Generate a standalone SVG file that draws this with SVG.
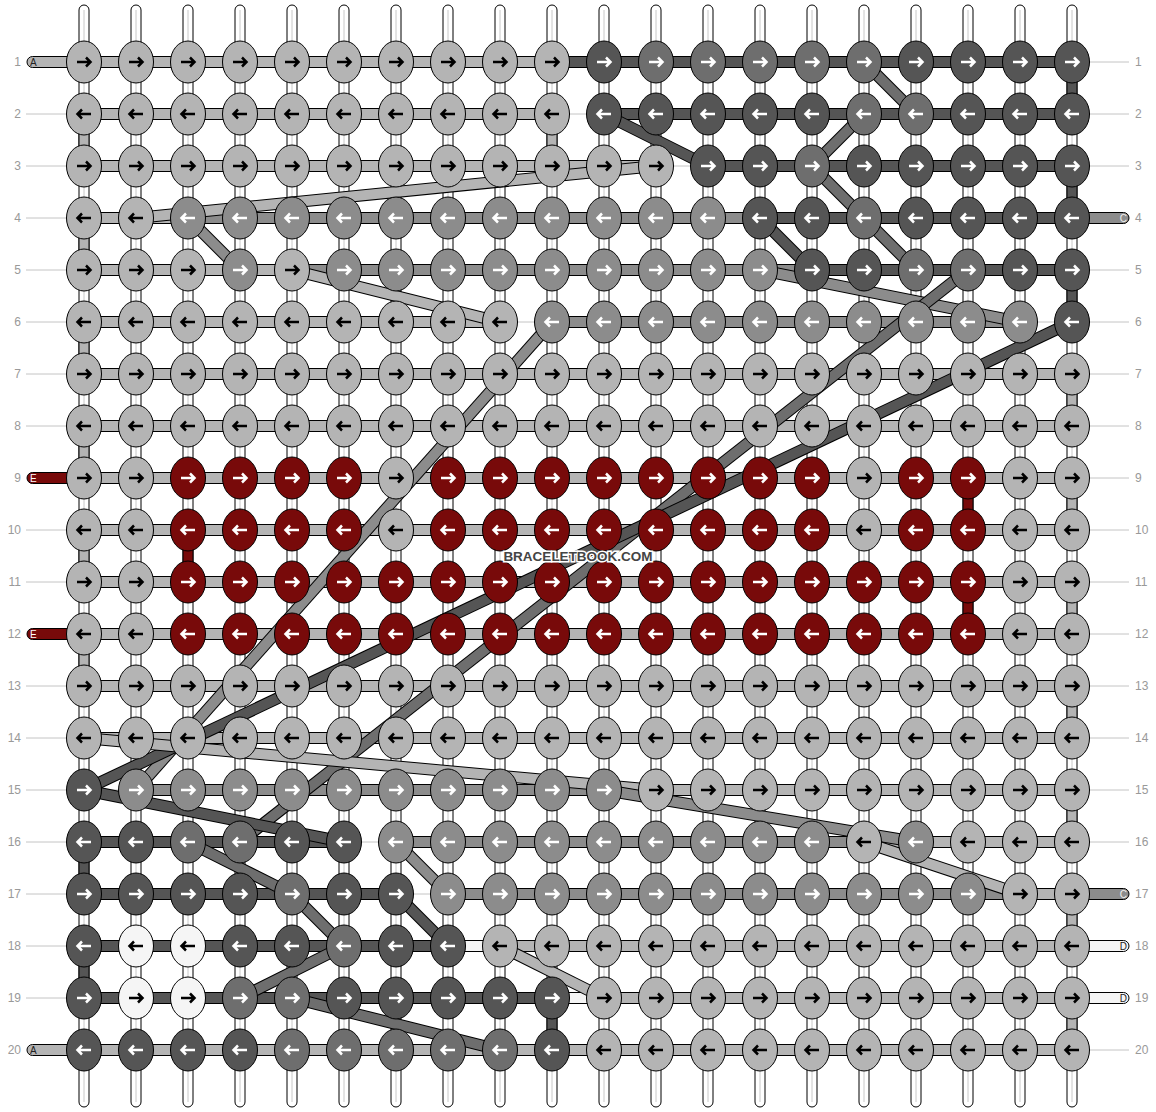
<svg xmlns="http://www.w3.org/2000/svg" xmlns:xlink="http://www.w3.org/1999/xlink" width="1156" height="1112" viewBox="0 0 1156 1112">
<style>
.lb{font-family:"Liberation Sans",Arial,sans-serif;font-size:12px;fill:#999}
.sl{font-family:"Liberation Sans",Arial,sans-serif;font-size:10px}
.rail{fill:#fff;stroke:#000;stroke-width:1}
.rl{stroke:#c8c8c8;stroke-width:1}
.tl{stroke:#c4c4c4;stroke-width:1}
.bd{stroke:#000;stroke-width:1}
.fa{fill:#b4b4b4}.fc{fill:#8c8c8c}.fm{fill:#6e6e6e}.fb{fill:#555}.fe{fill:#780a0a}.fd{fill:#f5f5f5}
.ol{stroke:#000;stroke-width:12}
.sa{stroke:#b4b4b4;stroke-width:10}.sc{stroke:#8c8c8c;stroke-width:10}.sm{stroke:#6e6e6e;stroke-width:10}.sb{stroke:#555;stroke-width:10}
.ka{fill:#b4b4b4;stroke:#000}.kc{fill:#8c8c8c;stroke:#fff}.km{fill:#6e6e6e;stroke:#fff}.kb{fill:#555;stroke:#fff}.ke{fill:#780a0a;stroke:#fff}.kd{fill:#f5f5f5;stroke:#000}
.wm{font-family:"Liberation Sans",Arial,sans-serif;font-size:13.5px;font-weight:bold;fill:#444;stroke:#fff;stroke-width:3;paint-order:stroke;text-anchor:middle}
</style>
<defs>
<ellipse id="K" rx="17.5" ry="21" stroke="#000" stroke-width="1"/>
<path id="R" d="M-7,0H6M2,-4.5L6.5,0L2,4.5" fill="none" stroke-width="2.5"/>
<path id="L" d="M7,0H-6M-2,-4.5L-6.5,0L-2,4.5" fill="none" stroke-width="2.5"/>
</defs>
<rect width="1156" height="1112" fill="#fff"/>
<g id="labels">
<g class="tl">
<line x1="26" y1="114" x2="66" y2="114"/><line x1="26" y1="166" x2="66" y2="166"/><line x1="26" y1="218" x2="66" y2="218"/><line x1="26" y1="270" x2="66" y2="270"/><line x1="26" y1="322" x2="66" y2="322"/><line x1="26" y1="374" x2="66" y2="374"/><line x1="26" y1="426" x2="66" y2="426"/><line x1="26" y1="530" x2="66" y2="530"/><line x1="26" y1="582" x2="66" y2="582"/><line x1="26" y1="686" x2="66" y2="686"/><line x1="26" y1="738" x2="66" y2="738"/><line x1="26" y1="790" x2="66" y2="790"/><line x1="26" y1="842" x2="66" y2="842"/><line x1="26" y1="894" x2="66" y2="894"/><line x1="26" y1="946" x2="66" y2="946"/><line x1="26" y1="998" x2="66" y2="998"/>
<line x1="1090" y1="62" x2="1129" y2="62"/><line x1="1090" y1="114" x2="1129" y2="114"/><line x1="1090" y1="166" x2="1129" y2="166"/><line x1="1090" y1="270" x2="1129" y2="270"/><line x1="1090" y1="322" x2="1129" y2="322"/><line x1="1090" y1="374" x2="1129" y2="374"/><line x1="1090" y1="426" x2="1129" y2="426"/><line x1="1090" y1="478" x2="1129" y2="478"/><line x1="1090" y1="530" x2="1129" y2="530"/><line x1="1090" y1="582" x2="1129" y2="582"/><line x1="1090" y1="634" x2="1129" y2="634"/><line x1="1090" y1="686" x2="1129" y2="686"/><line x1="1090" y1="738" x2="1129" y2="738"/><line x1="1090" y1="790" x2="1129" y2="790"/><line x1="1090" y1="842" x2="1129" y2="842"/><line x1="1090" y1="1050" x2="1129" y2="1050"/>
</g>
<g class="lb" text-anchor="end">
<text x="21" y="66">1</text><text x="21" y="118">2</text><text x="21" y="170">3</text><text x="21" y="222">4</text><text x="21" y="274">5</text><text x="21" y="326">6</text><text x="21" y="378">7</text><text x="21" y="430">8</text><text x="21" y="482">9</text><text x="21" y="534">10</text><text x="21" y="586">11</text><text x="21" y="638">12</text><text x="21" y="690">13</text><text x="21" y="742">14</text><text x="21" y="794">15</text><text x="21" y="846">16</text><text x="21" y="898">17</text><text x="21" y="950">18</text><text x="21" y="1002">19</text><text x="21" y="1054">20</text>
</g>
<g class="lb">
<text x="1135" y="66">1</text><text x="1135" y="118">2</text><text x="1135" y="170">3</text><text x="1135" y="222">4</text><text x="1135" y="274">5</text><text x="1135" y="326">6</text><text x="1135" y="378">7</text><text x="1135" y="430">8</text><text x="1135" y="482">9</text><text x="1135" y="534">10</text><text x="1135" y="586">11</text><text x="1135" y="638">12</text><text x="1135" y="690">13</text><text x="1135" y="742">14</text><text x="1135" y="794">15</text><text x="1135" y="846">16</text><text x="1135" y="898">17</text><text x="1135" y="950">18</text><text x="1135" y="1002">19</text><text x="1135" y="1054">20</text>
</g>
</g>
<g id="strings">
<g class="rail">
<rect x="79" y="5" width="10" height="1102" rx="5"/><rect x="131" y="5" width="10" height="1102" rx="5"/><rect x="183" y="5" width="10" height="1102" rx="5"/><rect x="235" y="5" width="10" height="1102" rx="5"/><rect x="287" y="5" width="10" height="1102" rx="5"/><rect x="339" y="5" width="10" height="1102" rx="5"/><rect x="391" y="5" width="10" height="1102" rx="5"/><rect x="443" y="5" width="10" height="1102" rx="5"/><rect x="495" y="5" width="10" height="1102" rx="5"/><rect x="547" y="5" width="10" height="1102" rx="5"/><rect x="599" y="5" width="10" height="1102" rx="5"/><rect x="651" y="5" width="10" height="1102" rx="5"/><rect x="703" y="5" width="10" height="1102" rx="5"/><rect x="755" y="5" width="10" height="1102" rx="5"/><rect x="807" y="5" width="10" height="1102" rx="5"/><rect x="859" y="5" width="10" height="1102" rx="5"/><rect x="911" y="5" width="10" height="1102" rx="5"/><rect x="963" y="5" width="10" height="1102" rx="5"/><rect x="1015" y="5" width="10" height="1102" rx="5"/><rect x="1067" y="5" width="10" height="1102" rx="5"/>
</g>
<g class="rl">
<line x1="84" y1="10" x2="84" y2="1102"/><line x1="136" y1="10" x2="136" y2="1102"/><line x1="188" y1="10" x2="188" y2="1102"/><line x1="240" y1="10" x2="240" y2="1102"/><line x1="292" y1="10" x2="292" y2="1102"/><line x1="344" y1="10" x2="344" y2="1102"/><line x1="396" y1="10" x2="396" y2="1102"/><line x1="448" y1="10" x2="448" y2="1102"/><line x1="500" y1="10" x2="500" y2="1102"/><line x1="552" y1="10" x2="552" y2="1102"/><line x1="604" y1="10" x2="604" y2="1102"/><line x1="656" y1="10" x2="656" y2="1102"/><line x1="708" y1="10" x2="708" y2="1102"/><line x1="760" y1="10" x2="760" y2="1102"/><line x1="812" y1="10" x2="812" y2="1102"/><line x1="864" y1="10" x2="864" y2="1102"/><line x1="916" y1="10" x2="916" y2="1102"/><line x1="968" y1="10" x2="968" y2="1102"/><line x1="1020" y1="10" x2="1020" y2="1102"/><line x1="1072" y1="10" x2="1072" y2="1102"/>
</g>
</g>
<g id="connectors">
<g class="bd">
<rect class="fa" x="79" y="114" width="10" height="52"/><rect class="fa" x="79" y="218" width="10" height="52"/><rect class="fa" x="79" y="322" width="10" height="52"/><rect class="fa" x="79" y="426" width="10" height="52"/><rect class="fa" x="79" y="530" width="10" height="52"/><rect class="fa" x="79" y="634" width="10" height="52"/><rect class="fb" x="79" y="842" width="10" height="52"/><rect class="fb" x="79" y="946" width="10" height="52"/>
<rect class="fb" x="1067" y="62" width="10" height="52"/><rect class="fb" x="1067" y="166" width="10" height="52"/><rect class="fb" x="1067" y="270" width="10" height="52"/><rect class="fa" x="1067" y="374" width="10" height="52"/><rect class="fa" x="1067" y="478" width="10" height="52"/><rect class="fa" x="1067" y="582" width="10" height="52"/><rect class="fa" x="1067" y="686" width="10" height="52"/><rect class="fa" x="1067" y="790" width="10" height="52"/><rect class="fa" x="1067" y="894" width="10" height="52"/><rect class="fa" x="1067" y="998" width="10" height="52"/>
<rect class="fa" x="547" y="114" width="10" height="52"/><rect class="fb" x="547" y="998" width="10" height="52"/>
<rect class="fe" x="963" y="478" width="10" height="52"/><rect class="fe" x="963" y="582" width="10" height="52"/><rect class="fe" x="183" y="530" width="10" height="52"/>
<rect class="fa" x="27" y="56.5" width="60" height="11" rx="5.5"/>
<rect class="fe" x="27" y="472.5" width="60" height="11" rx="5.5"/>
<rect class="fe" x="27" y="628.5" width="60" height="11" rx="5.5"/>
<rect class="fa" x="27" y="1044.5" width="60" height="11" rx="5.5"/>
<rect class="fc" x="1069" y="212.5" width="60" height="11" rx="5.5"/>
<rect class="fc" x="1069" y="888.5" width="60" height="11" rx="5.5"/>
<rect class="fd" x="1069" y="940.5" width="60" height="11" rx="5.5"/>
<rect class="fd" x="1069" y="992.5" width="60" height="11" rx="5.5"/>
<rect class="fa" x="84" y="56.5" width="468" height="11"/><rect class="fb" x="552" y="56.5" width="520" height="11"/>
<rect class="fa" x="84" y="108.5" width="468" height="11"/><rect class="fb" x="604" y="108.5" width="468" height="11"/>
<rect class="fa" x="84" y="160.5" width="572" height="11"/><rect class="fb" x="708" y="160.5" width="364" height="11"/>
<rect class="fa" x="84" y="212.5" width="104" height="11"/><rect class="fc" x="188" y="212.5" width="572" height="11"/><rect class="fb" x="760" y="212.5" width="312" height="11"/>
<rect class="fa" x="84" y="264.5" width="208" height="11"/><rect class="fc" x="292" y="264.5" width="520" height="11"/><rect class="fb" x="812" y="264.5" width="260" height="11"/>
<rect class="fa" x="84" y="316.5" width="416" height="11"/><rect class="fc" x="552" y="316.5" width="468" height="11"/>
<rect class="fa" x="84" y="368.5" width="988" height="11"/>
<rect class="fa" x="84" y="420.5" width="988" height="11"/>
<rect class="fa" x="84" y="472.5" width="988" height="11"/>
<rect class="fa" x="84" y="524.5" width="988" height="11"/>
<rect class="fa" x="84" y="576.5" width="988" height="11"/>
<rect class="fa" x="84" y="628.5" width="988" height="11"/>
<rect class="fa" x="84" y="680.5" width="988" height="11"/>
<rect class="fa" x="84" y="732.5" width="988" height="11"/>
<rect class="fc" x="136" y="784.5" width="468" height="11"/><rect class="fa" x="604" y="784.5" width="468" height="11"/>
<rect class="fb" x="84" y="836.5" width="260" height="11"/><rect class="fc" x="396" y="836.5" width="468" height="11"/><rect class="fa" x="864" y="836.5" width="208" height="11"/>
<rect class="fb" x="84" y="888.5" width="312" height="11"/><rect class="fc" x="448" y="888.5" width="572" height="11"/><rect class="fa" x="1020" y="888.5" width="52" height="11"/>
<rect class="fb" x="84" y="940.5" width="364" height="11"/><rect class="fd" x="448" y="940.5" width="52" height="11"/><rect class="fa" x="500" y="940.5" width="572" height="11"/>
<rect class="fb" x="84" y="992.5" width="468" height="11"/><rect class="fd" x="552" y="992.5" width="52" height="11"/><rect class="fa" x="604" y="992.5" width="468" height="11"/>
<rect class="fa" x="84" y="1044.5" width="988" height="11"/>
</g>
<g class="tl">
<line x1="552" y1="114" x2="604" y2="114"/><line x1="656" y1="166" x2="708" y2="166"/><line x1="500" y1="322" x2="552" y2="322"/><line x1="1020" y1="322" x2="1072" y2="322"/><line x1="84" y1="790" x2="136" y2="790"/><line x1="344" y1="842" x2="396" y2="842"/><line x1="396" y1="894" x2="448" y2="894"/>
</g>
<g class="sl">
<text x="30" y="66" fill="#222">A</text><text x="30" y="482" fill="#fff">E</text><text x="30" y="638" fill="#fff">E</text><text x="30" y="1054" fill="#222">A</text>
<text x="1127" y="222" fill="#eee" text-anchor="end">C</text><text x="1127" y="898" fill="#eee" text-anchor="end">C</text><text x="1127" y="950" fill="#222" text-anchor="end">D</text><text x="1127" y="1002" fill="#222" text-anchor="end">D</text>
</g>
<g id="diagonals">
<line class="ol" x1="136" y1="218" x2="656" y2="166"/><line class="sa" x1="136" y1="218" x2="656" y2="166"/>
<line class="ol" x1="292" y1="270" x2="500" y2="322"/><line class="sa" x1="292" y1="270" x2="500" y2="322"/>
<line class="ol" x1="188" y1="218" x2="240" y2="270"/><line class="sc" x1="188" y1="218" x2="240" y2="270"/>
<line class="ol" x1="760" y1="270" x2="1020" y2="322"/><line class="sc" x1="760" y1="270" x2="1020" y2="322"/>
<line class="ol" x1="864" y1="62" x2="916" y2="114"/><line class="sm" x1="864" y1="62" x2="916" y2="114"/>
<line class="ol" x1="864" y1="114" x2="812" y2="166"/><line class="sm" x1="864" y1="114" x2="812" y2="166"/>
<line class="ol" x1="812" y1="166" x2="864" y2="218"/><line class="sm" x1="812" y1="166" x2="864" y2="218"/>
<line class="ol" x1="864" y1="218" x2="916" y2="270"/><line class="sm" x1="864" y1="218" x2="916" y2="270"/>
<line class="ol" x1="604" y1="114" x2="708" y2="166"/><line class="sb" x1="604" y1="114" x2="708" y2="166"/>
<line class="ol" x1="760" y1="218" x2="812" y2="270"/><line class="sb" x1="760" y1="218" x2="812" y2="270"/>
<line class="ol" x1="552" y1="322" x2="136" y2="790"/><line class="sc" x1="552" y1="322" x2="136" y2="790"/>
<line class="ol" x1="968" y1="270" x2="240" y2="842"/><line class="sm" x1="968" y1="270" x2="240" y2="842"/>
<line class="ol" x1="1072" y1="322" x2="84" y2="790"/><line class="sb" x1="1072" y1="322" x2="84" y2="790"/>
<line class="ol" x1="84" y1="738" x2="656" y2="790"/><line class="sa" x1="84" y1="738" x2="656" y2="790"/>
<line class="ol" x1="84" y1="790" x2="344" y2="842"/><line class="sb" x1="84" y1="790" x2="344" y2="842"/>
<line class="ol" x1="604" y1="790" x2="916" y2="842"/><line class="sc" x1="604" y1="790" x2="916" y2="842"/>
<line class="ol" x1="864" y1="842" x2="1020" y2="894"/><line class="sa" x1="864" y1="842" x2="1020" y2="894"/>
<line class="ol" x1="188" y1="842" x2="292" y2="894"/><line class="sm" x1="188" y1="842" x2="292" y2="894"/>
<line class="ol" x1="292" y1="894" x2="344" y2="946"/><line class="sm" x1="292" y1="894" x2="344" y2="946"/>
<line class="ol" x1="240" y1="998" x2="344" y2="946"/><line class="sm" x1="240" y1="998" x2="344" y2="946"/>
<line class="ol" x1="292" y1="998" x2="500" y2="1050"/><line class="sm" x1="292" y1="998" x2="500" y2="1050"/>
<line class="ol" x1="396" y1="842" x2="448" y2="894"/><line class="sc" x1="396" y1="842" x2="448" y2="894"/>
<line class="ol" x1="396" y1="894" x2="448" y2="946"/><line class="sb" x1="396" y1="894" x2="448" y2="946"/>
<line class="ol" x1="500" y1="946" x2="604" y2="998"/><line class="sa" x1="500" y1="946" x2="604" y2="998"/>
</g>
</g>
<g id="knots">
<g id="k1_1" class="ka" transform="translate(84,62)"><use href="#K"/><use href="#R"/></g>
<g id="k1_2" class="ka" transform="translate(136,62)"><use href="#K"/><use href="#R"/></g>
<g id="k1_3" class="ka" transform="translate(188,62)"><use href="#K"/><use href="#R"/></g>
<g id="k1_4" class="ka" transform="translate(240,62)"><use href="#K"/><use href="#R"/></g>
<g id="k1_5" class="ka" transform="translate(292,62)"><use href="#K"/><use href="#R"/></g>
<g id="k1_6" class="ka" transform="translate(344,62)"><use href="#K"/><use href="#R"/></g>
<g id="k1_7" class="ka" transform="translate(396,62)"><use href="#K"/><use href="#R"/></g>
<g id="k1_8" class="ka" transform="translate(448,62)"><use href="#K"/><use href="#R"/></g>
<g id="k1_9" class="ka" transform="translate(500,62)"><use href="#K"/><use href="#R"/></g>
<g id="k1_10" class="ka" transform="translate(552,62)"><use href="#K"/><use href="#R"/></g>
<g id="k1_11" class="kb" transform="translate(604,62)"><use href="#K"/><use href="#R"/></g>
<g id="k1_12" class="km" transform="translate(656,62)"><use href="#K"/><use href="#R"/></g>
<g id="k1_13" class="km" transform="translate(708,62)"><use href="#K"/><use href="#R"/></g>
<g id="k1_14" class="km" transform="translate(760,62)"><use href="#K"/><use href="#R"/></g>
<g id="k1_15" class="km" transform="translate(812,62)"><use href="#K"/><use href="#R"/></g>
<g id="k1_16" class="km" transform="translate(864,62)"><use href="#K"/><use href="#R"/></g>
<g id="k1_17" class="kb" transform="translate(916,62)"><use href="#K"/><use href="#R"/></g>
<g id="k1_18" class="kb" transform="translate(968,62)"><use href="#K"/><use href="#R"/></g>
<g id="k1_19" class="kb" transform="translate(1020,62)"><use href="#K"/><use href="#R"/></g>
<g id="k1_20" class="kb" transform="translate(1072,62)"><use href="#K"/><use href="#R"/></g>
<g id="k2_1" class="ka" transform="translate(84,114)"><use href="#K"/><use href="#L"/></g>
<g id="k2_2" class="ka" transform="translate(136,114)"><use href="#K"/><use href="#L"/></g>
<g id="k2_3" class="ka" transform="translate(188,114)"><use href="#K"/><use href="#L"/></g>
<g id="k2_4" class="ka" transform="translate(240,114)"><use href="#K"/><use href="#L"/></g>
<g id="k2_5" class="ka" transform="translate(292,114)"><use href="#K"/><use href="#L"/></g>
<g id="k2_6" class="ka" transform="translate(344,114)"><use href="#K"/><use href="#L"/></g>
<g id="k2_7" class="ka" transform="translate(396,114)"><use href="#K"/><use href="#L"/></g>
<g id="k2_8" class="ka" transform="translate(448,114)"><use href="#K"/><use href="#L"/></g>
<g id="k2_9" class="ka" transform="translate(500,114)"><use href="#K"/><use href="#L"/></g>
<g id="k2_10" class="ka" transform="translate(552,114)"><use href="#K"/><use href="#L"/></g>
<g id="k2_11" class="kb" transform="translate(604,114)"><use href="#K"/><use href="#L"/></g>
<g id="k2_12" class="kb" transform="translate(656,114)"><use href="#K"/><use href="#L"/></g>
<g id="k2_13" class="kb" transform="translate(708,114)"><use href="#K"/><use href="#L"/></g>
<g id="k2_14" class="kb" transform="translate(760,114)"><use href="#K"/><use href="#L"/></g>
<g id="k2_15" class="kb" transform="translate(812,114)"><use href="#K"/><use href="#L"/></g>
<g id="k2_16" class="km" transform="translate(864,114)"><use href="#K"/><use href="#L"/></g>
<g id="k2_17" class="km" transform="translate(916,114)"><use href="#K"/><use href="#L"/></g>
<g id="k2_18" class="kb" transform="translate(968,114)"><use href="#K"/><use href="#L"/></g>
<g id="k2_19" class="kb" transform="translate(1020,114)"><use href="#K"/><use href="#L"/></g>
<g id="k2_20" class="kb" transform="translate(1072,114)"><use href="#K"/><use href="#L"/></g>
<g id="k3_1" class="ka" transform="translate(84,166)"><use href="#K"/><use href="#R"/></g>
<g id="k3_2" class="ka" transform="translate(136,166)"><use href="#K"/><use href="#R"/></g>
<g id="k3_3" class="ka" transform="translate(188,166)"><use href="#K"/><use href="#R"/></g>
<g id="k3_4" class="ka" transform="translate(240,166)"><use href="#K"/><use href="#R"/></g>
<g id="k3_5" class="ka" transform="translate(292,166)"><use href="#K"/><use href="#R"/></g>
<g id="k3_6" class="ka" transform="translate(344,166)"><use href="#K"/><use href="#R"/></g>
<g id="k3_7" class="ka" transform="translate(396,166)"><use href="#K"/><use href="#R"/></g>
<g id="k3_8" class="ka" transform="translate(448,166)"><use href="#K"/><use href="#R"/></g>
<g id="k3_9" class="ka" transform="translate(500,166)"><use href="#K"/><use href="#R"/></g>
<g id="k3_10" class="ka" transform="translate(552,166)"><use href="#K"/><use href="#R"/></g>
<g id="k3_11" class="ka" transform="translate(604,166)"><use href="#K"/><use href="#R"/></g>
<g id="k3_12" class="ka" transform="translate(656,166)"><use href="#K"/><use href="#R"/></g>
<g id="k3_13" class="kb" transform="translate(708,166)"><use href="#K"/><use href="#R"/></g>
<g id="k3_14" class="kb" transform="translate(760,166)"><use href="#K"/><use href="#R"/></g>
<g id="k3_15" class="km" transform="translate(812,166)"><use href="#K"/><use href="#R"/></g>
<g id="k3_16" class="kb" transform="translate(864,166)"><use href="#K"/><use href="#R"/></g>
<g id="k3_17" class="kb" transform="translate(916,166)"><use href="#K"/><use href="#R"/></g>
<g id="k3_18" class="kb" transform="translate(968,166)"><use href="#K"/><use href="#R"/></g>
<g id="k3_19" class="kb" transform="translate(1020,166)"><use href="#K"/><use href="#R"/></g>
<g id="k3_20" class="kb" transform="translate(1072,166)"><use href="#K"/><use href="#R"/></g>
<g id="k4_1" class="ka" transform="translate(84,218)"><use href="#K"/><use href="#L"/></g>
<g id="k4_2" class="ka" transform="translate(136,218)"><use href="#K"/><use href="#L"/></g>
<g id="k4_3" class="kc" transform="translate(188,218)"><use href="#K"/><use href="#L"/></g>
<g id="k4_4" class="kc" transform="translate(240,218)"><use href="#K"/><use href="#L"/></g>
<g id="k4_5" class="kc" transform="translate(292,218)"><use href="#K"/><use href="#L"/></g>
<g id="k4_6" class="kc" transform="translate(344,218)"><use href="#K"/><use href="#L"/></g>
<g id="k4_7" class="kc" transform="translate(396,218)"><use href="#K"/><use href="#L"/></g>
<g id="k4_8" class="kc" transform="translate(448,218)"><use href="#K"/><use href="#L"/></g>
<g id="k4_9" class="kc" transform="translate(500,218)"><use href="#K"/><use href="#L"/></g>
<g id="k4_10" class="kc" transform="translate(552,218)"><use href="#K"/><use href="#L"/></g>
<g id="k4_11" class="kc" transform="translate(604,218)"><use href="#K"/><use href="#L"/></g>
<g id="k4_12" class="kc" transform="translate(656,218)"><use href="#K"/><use href="#L"/></g>
<g id="k4_13" class="kc" transform="translate(708,218)"><use href="#K"/><use href="#L"/></g>
<g id="k4_14" class="kb" transform="translate(760,218)"><use href="#K"/><use href="#L"/></g>
<g id="k4_15" class="kb" transform="translate(812,218)"><use href="#K"/><use href="#L"/></g>
<g id="k4_16" class="km" transform="translate(864,218)"><use href="#K"/><use href="#L"/></g>
<g id="k4_17" class="kb" transform="translate(916,218)"><use href="#K"/><use href="#L"/></g>
<g id="k4_18" class="kb" transform="translate(968,218)"><use href="#K"/><use href="#L"/></g>
<g id="k4_19" class="kb" transform="translate(1020,218)"><use href="#K"/><use href="#L"/></g>
<g id="k4_20" class="kb" transform="translate(1072,218)"><use href="#K"/><use href="#L"/></g>
<g id="k5_1" class="ka" transform="translate(84,270)"><use href="#K"/><use href="#R"/></g>
<g id="k5_2" class="ka" transform="translate(136,270)"><use href="#K"/><use href="#R"/></g>
<g id="k5_3" class="ka" transform="translate(188,270)"><use href="#K"/><use href="#R"/></g>
<g id="k5_4" class="kc" transform="translate(240,270)"><use href="#K"/><use href="#R"/></g>
<g id="k5_5" class="ka" transform="translate(292,270)"><use href="#K"/><use href="#R"/></g>
<g id="k5_6" class="kc" transform="translate(344,270)"><use href="#K"/><use href="#R"/></g>
<g id="k5_7" class="kc" transform="translate(396,270)"><use href="#K"/><use href="#R"/></g>
<g id="k5_8" class="kc" transform="translate(448,270)"><use href="#K"/><use href="#R"/></g>
<g id="k5_9" class="kc" transform="translate(500,270)"><use href="#K"/><use href="#R"/></g>
<g id="k5_10" class="kc" transform="translate(552,270)"><use href="#K"/><use href="#R"/></g>
<g id="k5_11" class="kc" transform="translate(604,270)"><use href="#K"/><use href="#R"/></g>
<g id="k5_12" class="kc" transform="translate(656,270)"><use href="#K"/><use href="#R"/></g>
<g id="k5_13" class="kc" transform="translate(708,270)"><use href="#K"/><use href="#R"/></g>
<g id="k5_14" class="kc" transform="translate(760,270)"><use href="#K"/><use href="#R"/></g>
<g id="k5_15" class="kb" transform="translate(812,270)"><use href="#K"/><use href="#R"/></g>
<g id="k5_16" class="kb" transform="translate(864,270)"><use href="#K"/><use href="#R"/></g>
<g id="k5_17" class="km" transform="translate(916,270)"><use href="#K"/><use href="#R"/></g>
<g id="k5_18" class="km" transform="translate(968,270)"><use href="#K"/><use href="#R"/></g>
<g id="k5_19" class="kb" transform="translate(1020,270)"><use href="#K"/><use href="#R"/></g>
<g id="k5_20" class="kb" transform="translate(1072,270)"><use href="#K"/><use href="#R"/></g>
<g id="k6_1" class="ka" transform="translate(84,322)"><use href="#K"/><use href="#L"/></g>
<g id="k6_2" class="ka" transform="translate(136,322)"><use href="#K"/><use href="#L"/></g>
<g id="k6_3" class="ka" transform="translate(188,322)"><use href="#K"/><use href="#L"/></g>
<g id="k6_4" class="ka" transform="translate(240,322)"><use href="#K"/><use href="#L"/></g>
<g id="k6_5" class="ka" transform="translate(292,322)"><use href="#K"/><use href="#L"/></g>
<g id="k6_6" class="ka" transform="translate(344,322)"><use href="#K"/><use href="#L"/></g>
<g id="k6_7" class="ka" transform="translate(396,322)"><use href="#K"/><use href="#L"/></g>
<g id="k6_8" class="ka" transform="translate(448,322)"><use href="#K"/><use href="#L"/></g>
<g id="k6_9" class="ka" transform="translate(500,322)"><use href="#K"/><use href="#L"/></g>
<g id="k6_10" class="kc" transform="translate(552,322)"><use href="#K"/><use href="#L"/></g>
<g id="k6_11" class="kc" transform="translate(604,322)"><use href="#K"/><use href="#L"/></g>
<g id="k6_12" class="kc" transform="translate(656,322)"><use href="#K"/><use href="#L"/></g>
<g id="k6_13" class="kc" transform="translate(708,322)"><use href="#K"/><use href="#L"/></g>
<g id="k6_14" class="kc" transform="translate(760,322)"><use href="#K"/><use href="#L"/></g>
<g id="k6_15" class="kc" transform="translate(812,322)"><use href="#K"/><use href="#L"/></g>
<g id="k6_16" class="kc" transform="translate(864,322)"><use href="#K"/><use href="#L"/></g>
<g id="k6_17" class="kc" transform="translate(916,322)"><use href="#K"/><use href="#L"/></g>
<g id="k6_18" class="kc" transform="translate(968,322)"><use href="#K"/><use href="#L"/></g>
<g id="k6_19" class="kc" transform="translate(1020,322)"><use href="#K"/><use href="#L"/></g>
<g id="k6_20" class="kb" transform="translate(1072,322)"><use href="#K"/><use href="#L"/></g>
<g id="k7_1" class="ka" transform="translate(84,374)"><use href="#K"/><use href="#R"/></g>
<g id="k7_2" class="ka" transform="translate(136,374)"><use href="#K"/><use href="#R"/></g>
<g id="k7_3" class="ka" transform="translate(188,374)"><use href="#K"/><use href="#R"/></g>
<g id="k7_4" class="ka" transform="translate(240,374)"><use href="#K"/><use href="#R"/></g>
<g id="k7_5" class="ka" transform="translate(292,374)"><use href="#K"/><use href="#R"/></g>
<g id="k7_6" class="ka" transform="translate(344,374)"><use href="#K"/><use href="#R"/></g>
<g id="k7_7" class="ka" transform="translate(396,374)"><use href="#K"/><use href="#R"/></g>
<g id="k7_8" class="ka" transform="translate(448,374)"><use href="#K"/><use href="#R"/></g>
<g id="k7_9" class="ka" transform="translate(500,374)"><use href="#K"/><use href="#R"/></g>
<g id="k7_10" class="ka" transform="translate(552,374)"><use href="#K"/><use href="#R"/></g>
<g id="k7_11" class="ka" transform="translate(604,374)"><use href="#K"/><use href="#R"/></g>
<g id="k7_12" class="ka" transform="translate(656,374)"><use href="#K"/><use href="#R"/></g>
<g id="k7_13" class="ka" transform="translate(708,374)"><use href="#K"/><use href="#R"/></g>
<g id="k7_14" class="ka" transform="translate(760,374)"><use href="#K"/><use href="#R"/></g>
<g id="k7_15" class="ka" transform="translate(812,374)"><use href="#K"/><use href="#R"/></g>
<g id="k7_16" class="ka" transform="translate(864,374)"><use href="#K"/><use href="#R"/></g>
<g id="k7_17" class="ka" transform="translate(916,374)"><use href="#K"/><use href="#R"/></g>
<g id="k7_18" class="ka" transform="translate(968,374)"><use href="#K"/><use href="#R"/></g>
<g id="k7_19" class="ka" transform="translate(1020,374)"><use href="#K"/><use href="#R"/></g>
<g id="k7_20" class="ka" transform="translate(1072,374)"><use href="#K"/><use href="#R"/></g>
<g id="k8_1" class="ka" transform="translate(84,426)"><use href="#K"/><use href="#L"/></g>
<g id="k8_2" class="ka" transform="translate(136,426)"><use href="#K"/><use href="#L"/></g>
<g id="k8_3" class="ka" transform="translate(188,426)"><use href="#K"/><use href="#L"/></g>
<g id="k8_4" class="ka" transform="translate(240,426)"><use href="#K"/><use href="#L"/></g>
<g id="k8_5" class="ka" transform="translate(292,426)"><use href="#K"/><use href="#L"/></g>
<g id="k8_6" class="ka" transform="translate(344,426)"><use href="#K"/><use href="#L"/></g>
<g id="k8_7" class="ka" transform="translate(396,426)"><use href="#K"/><use href="#L"/></g>
<g id="k8_8" class="ka" transform="translate(448,426)"><use href="#K"/><use href="#L"/></g>
<g id="k8_9" class="ka" transform="translate(500,426)"><use href="#K"/><use href="#L"/></g>
<g id="k8_10" class="ka" transform="translate(552,426)"><use href="#K"/><use href="#L"/></g>
<g id="k8_11" class="ka" transform="translate(604,426)"><use href="#K"/><use href="#L"/></g>
<g id="k8_12" class="ka" transform="translate(656,426)"><use href="#K"/><use href="#L"/></g>
<g id="k8_13" class="ka" transform="translate(708,426)"><use href="#K"/><use href="#L"/></g>
<g id="k8_14" class="ka" transform="translate(760,426)"><use href="#K"/><use href="#L"/></g>
<g id="k8_15" class="ka" transform="translate(812,426)"><use href="#K"/><use href="#L"/></g>
<g id="k8_16" class="ka" transform="translate(864,426)"><use href="#K"/><use href="#L"/></g>
<g id="k8_17" class="ka" transform="translate(916,426)"><use href="#K"/><use href="#L"/></g>
<g id="k8_18" class="ka" transform="translate(968,426)"><use href="#K"/><use href="#L"/></g>
<g id="k8_19" class="ka" transform="translate(1020,426)"><use href="#K"/><use href="#L"/></g>
<g id="k8_20" class="ka" transform="translate(1072,426)"><use href="#K"/><use href="#L"/></g>
<g id="k9_1" class="ka" transform="translate(84,478)"><use href="#K"/><use href="#R"/></g>
<g id="k9_2" class="ka" transform="translate(136,478)"><use href="#K"/><use href="#R"/></g>
<g id="k9_3" class="ke" transform="translate(188,478)"><use href="#K"/><use href="#R"/></g>
<g id="k9_4" class="ke" transform="translate(240,478)"><use href="#K"/><use href="#R"/></g>
<g id="k9_5" class="ke" transform="translate(292,478)"><use href="#K"/><use href="#R"/></g>
<g id="k9_6" class="ke" transform="translate(344,478)"><use href="#K"/><use href="#R"/></g>
<g id="k9_7" class="ka" transform="translate(396,478)"><use href="#K"/><use href="#R"/></g>
<g id="k9_8" class="ke" transform="translate(448,478)"><use href="#K"/><use href="#R"/></g>
<g id="k9_9" class="ke" transform="translate(500,478)"><use href="#K"/><use href="#R"/></g>
<g id="k9_10" class="ke" transform="translate(552,478)"><use href="#K"/><use href="#R"/></g>
<g id="k9_11" class="ke" transform="translate(604,478)"><use href="#K"/><use href="#R"/></g>
<g id="k9_12" class="ke" transform="translate(656,478)"><use href="#K"/><use href="#R"/></g>
<g id="k9_13" class="ke" transform="translate(708,478)"><use href="#K"/><use href="#R"/></g>
<g id="k9_14" class="ke" transform="translate(760,478)"><use href="#K"/><use href="#R"/></g>
<g id="k9_15" class="ke" transform="translate(812,478)"><use href="#K"/><use href="#R"/></g>
<g id="k9_16" class="ka" transform="translate(864,478)"><use href="#K"/><use href="#R"/></g>
<g id="k9_17" class="ke" transform="translate(916,478)"><use href="#K"/><use href="#R"/></g>
<g id="k9_18" class="ke" transform="translate(968,478)"><use href="#K"/><use href="#R"/></g>
<g id="k9_19" class="ka" transform="translate(1020,478)"><use href="#K"/><use href="#R"/></g>
<g id="k9_20" class="ka" transform="translate(1072,478)"><use href="#K"/><use href="#R"/></g>
<g id="k10_1" class="ka" transform="translate(84,530)"><use href="#K"/><use href="#L"/></g>
<g id="k10_2" class="ka" transform="translate(136,530)"><use href="#K"/><use href="#L"/></g>
<g id="k10_3" class="ke" transform="translate(188,530)"><use href="#K"/><use href="#L"/></g>
<g id="k10_4" class="ke" transform="translate(240,530)"><use href="#K"/><use href="#L"/></g>
<g id="k10_5" class="ke" transform="translate(292,530)"><use href="#K"/><use href="#L"/></g>
<g id="k10_6" class="ke" transform="translate(344,530)"><use href="#K"/><use href="#L"/></g>
<g id="k10_7" class="ka" transform="translate(396,530)"><use href="#K"/><use href="#L"/></g>
<g id="k10_8" class="ke" transform="translate(448,530)"><use href="#K"/><use href="#L"/></g>
<g id="k10_9" class="ke" transform="translate(500,530)"><use href="#K"/><use href="#L"/></g>
<g id="k10_10" class="ke" transform="translate(552,530)"><use href="#K"/><use href="#L"/></g>
<g id="k10_11" class="ke" transform="translate(604,530)"><use href="#K"/><use href="#L"/></g>
<g id="k10_12" class="ke" transform="translate(656,530)"><use href="#K"/><use href="#L"/></g>
<g id="k10_13" class="ke" transform="translate(708,530)"><use href="#K"/><use href="#L"/></g>
<g id="k10_14" class="ke" transform="translate(760,530)"><use href="#K"/><use href="#L"/></g>
<g id="k10_15" class="ke" transform="translate(812,530)"><use href="#K"/><use href="#L"/></g>
<g id="k10_16" class="ka" transform="translate(864,530)"><use href="#K"/><use href="#L"/></g>
<g id="k10_17" class="ke" transform="translate(916,530)"><use href="#K"/><use href="#L"/></g>
<g id="k10_18" class="ke" transform="translate(968,530)"><use href="#K"/><use href="#L"/></g>
<g id="k10_19" class="ka" transform="translate(1020,530)"><use href="#K"/><use href="#L"/></g>
<g id="k10_20" class="ka" transform="translate(1072,530)"><use href="#K"/><use href="#L"/></g>
<g id="k11_1" class="ka" transform="translate(84,582)"><use href="#K"/><use href="#R"/></g>
<g id="k11_2" class="ka" transform="translate(136,582)"><use href="#K"/><use href="#R"/></g>
<g id="k11_3" class="ke" transform="translate(188,582)"><use href="#K"/><use href="#R"/></g>
<g id="k11_4" class="ke" transform="translate(240,582)"><use href="#K"/><use href="#R"/></g>
<g id="k11_5" class="ke" transform="translate(292,582)"><use href="#K"/><use href="#R"/></g>
<g id="k11_6" class="ke" transform="translate(344,582)"><use href="#K"/><use href="#R"/></g>
<g id="k11_7" class="ke" transform="translate(396,582)"><use href="#K"/><use href="#R"/></g>
<g id="k11_8" class="ke" transform="translate(448,582)"><use href="#K"/><use href="#R"/></g>
<g id="k11_9" class="ke" transform="translate(500,582)"><use href="#K"/><use href="#R"/></g>
<g id="k11_10" class="ke" transform="translate(552,582)"><use href="#K"/><use href="#R"/></g>
<g id="k11_11" class="ke" transform="translate(604,582)"><use href="#K"/><use href="#R"/></g>
<g id="k11_12" class="ke" transform="translate(656,582)"><use href="#K"/><use href="#R"/></g>
<g id="k11_13" class="ke" transform="translate(708,582)"><use href="#K"/><use href="#R"/></g>
<g id="k11_14" class="ke" transform="translate(760,582)"><use href="#K"/><use href="#R"/></g>
<g id="k11_15" class="ke" transform="translate(812,582)"><use href="#K"/><use href="#R"/></g>
<g id="k11_16" class="ke" transform="translate(864,582)"><use href="#K"/><use href="#R"/></g>
<g id="k11_17" class="ke" transform="translate(916,582)"><use href="#K"/><use href="#R"/></g>
<g id="k11_18" class="ke" transform="translate(968,582)"><use href="#K"/><use href="#R"/></g>
<g id="k11_19" class="ka" transform="translate(1020,582)"><use href="#K"/><use href="#R"/></g>
<g id="k11_20" class="ka" transform="translate(1072,582)"><use href="#K"/><use href="#R"/></g>
<g id="k12_1" class="ka" transform="translate(84,634)"><use href="#K"/><use href="#L"/></g>
<g id="k12_2" class="ka" transform="translate(136,634)"><use href="#K"/><use href="#L"/></g>
<g id="k12_3" class="ke" transform="translate(188,634)"><use href="#K"/><use href="#L"/></g>
<g id="k12_4" class="ke" transform="translate(240,634)"><use href="#K"/><use href="#L"/></g>
<g id="k12_5" class="ke" transform="translate(292,634)"><use href="#K"/><use href="#L"/></g>
<g id="k12_6" class="ke" transform="translate(344,634)"><use href="#K"/><use href="#L"/></g>
<g id="k12_7" class="ke" transform="translate(396,634)"><use href="#K"/><use href="#L"/></g>
<g id="k12_8" class="ke" transform="translate(448,634)"><use href="#K"/><use href="#L"/></g>
<g id="k12_9" class="ke" transform="translate(500,634)"><use href="#K"/><use href="#L"/></g>
<g id="k12_10" class="ke" transform="translate(552,634)"><use href="#K"/><use href="#L"/></g>
<g id="k12_11" class="ke" transform="translate(604,634)"><use href="#K"/><use href="#L"/></g>
<g id="k12_12" class="ke" transform="translate(656,634)"><use href="#K"/><use href="#L"/></g>
<g id="k12_13" class="ke" transform="translate(708,634)"><use href="#K"/><use href="#L"/></g>
<g id="k12_14" class="ke" transform="translate(760,634)"><use href="#K"/><use href="#L"/></g>
<g id="k12_15" class="ke" transform="translate(812,634)"><use href="#K"/><use href="#L"/></g>
<g id="k12_16" class="ke" transform="translate(864,634)"><use href="#K"/><use href="#L"/></g>
<g id="k12_17" class="ke" transform="translate(916,634)"><use href="#K"/><use href="#L"/></g>
<g id="k12_18" class="ke" transform="translate(968,634)"><use href="#K"/><use href="#L"/></g>
<g id="k12_19" class="ka" transform="translate(1020,634)"><use href="#K"/><use href="#L"/></g>
<g id="k12_20" class="ka" transform="translate(1072,634)"><use href="#K"/><use href="#L"/></g>
<g id="k13_1" class="ka" transform="translate(84,686)"><use href="#K"/><use href="#R"/></g>
<g id="k13_2" class="ka" transform="translate(136,686)"><use href="#K"/><use href="#R"/></g>
<g id="k13_3" class="ka" transform="translate(188,686)"><use href="#K"/><use href="#R"/></g>
<g id="k13_4" class="ka" transform="translate(240,686)"><use href="#K"/><use href="#R"/></g>
<g id="k13_5" class="ka" transform="translate(292,686)"><use href="#K"/><use href="#R"/></g>
<g id="k13_6" class="ka" transform="translate(344,686)"><use href="#K"/><use href="#R"/></g>
<g id="k13_7" class="ka" transform="translate(396,686)"><use href="#K"/><use href="#R"/></g>
<g id="k13_8" class="ka" transform="translate(448,686)"><use href="#K"/><use href="#R"/></g>
<g id="k13_9" class="ka" transform="translate(500,686)"><use href="#K"/><use href="#R"/></g>
<g id="k13_10" class="ka" transform="translate(552,686)"><use href="#K"/><use href="#R"/></g>
<g id="k13_11" class="ka" transform="translate(604,686)"><use href="#K"/><use href="#R"/></g>
<g id="k13_12" class="ka" transform="translate(656,686)"><use href="#K"/><use href="#R"/></g>
<g id="k13_13" class="ka" transform="translate(708,686)"><use href="#K"/><use href="#R"/></g>
<g id="k13_14" class="ka" transform="translate(760,686)"><use href="#K"/><use href="#R"/></g>
<g id="k13_15" class="ka" transform="translate(812,686)"><use href="#K"/><use href="#R"/></g>
<g id="k13_16" class="ka" transform="translate(864,686)"><use href="#K"/><use href="#R"/></g>
<g id="k13_17" class="ka" transform="translate(916,686)"><use href="#K"/><use href="#R"/></g>
<g id="k13_18" class="ka" transform="translate(968,686)"><use href="#K"/><use href="#R"/></g>
<g id="k13_19" class="ka" transform="translate(1020,686)"><use href="#K"/><use href="#R"/></g>
<g id="k13_20" class="ka" transform="translate(1072,686)"><use href="#K"/><use href="#R"/></g>
<g id="k14_1" class="ka" transform="translate(84,738)"><use href="#K"/><use href="#L"/></g>
<g id="k14_2" class="ka" transform="translate(136,738)"><use href="#K"/><use href="#L"/></g>
<g id="k14_3" class="ka" transform="translate(188,738)"><use href="#K"/><use href="#L"/></g>
<g id="k14_4" class="ka" transform="translate(240,738)"><use href="#K"/><use href="#L"/></g>
<g id="k14_5" class="ka" transform="translate(292,738)"><use href="#K"/><use href="#L"/></g>
<g id="k14_6" class="ka" transform="translate(344,738)"><use href="#K"/><use href="#L"/></g>
<g id="k14_7" class="ka" transform="translate(396,738)"><use href="#K"/><use href="#L"/></g>
<g id="k14_8" class="ka" transform="translate(448,738)"><use href="#K"/><use href="#L"/></g>
<g id="k14_9" class="ka" transform="translate(500,738)"><use href="#K"/><use href="#L"/></g>
<g id="k14_10" class="ka" transform="translate(552,738)"><use href="#K"/><use href="#L"/></g>
<g id="k14_11" class="ka" transform="translate(604,738)"><use href="#K"/><use href="#L"/></g>
<g id="k14_12" class="ka" transform="translate(656,738)"><use href="#K"/><use href="#L"/></g>
<g id="k14_13" class="ka" transform="translate(708,738)"><use href="#K"/><use href="#L"/></g>
<g id="k14_14" class="ka" transform="translate(760,738)"><use href="#K"/><use href="#L"/></g>
<g id="k14_15" class="ka" transform="translate(812,738)"><use href="#K"/><use href="#L"/></g>
<g id="k14_16" class="ka" transform="translate(864,738)"><use href="#K"/><use href="#L"/></g>
<g id="k14_17" class="ka" transform="translate(916,738)"><use href="#K"/><use href="#L"/></g>
<g id="k14_18" class="ka" transform="translate(968,738)"><use href="#K"/><use href="#L"/></g>
<g id="k14_19" class="ka" transform="translate(1020,738)"><use href="#K"/><use href="#L"/></g>
<g id="k14_20" class="ka" transform="translate(1072,738)"><use href="#K"/><use href="#L"/></g>
<g id="k15_1" class="kb" transform="translate(84,790)"><use href="#K"/><use href="#R"/></g>
<g id="k15_2" class="kc" transform="translate(136,790)"><use href="#K"/><use href="#R"/></g>
<g id="k15_3" class="kc" transform="translate(188,790)"><use href="#K"/><use href="#R"/></g>
<g id="k15_4" class="kc" transform="translate(240,790)"><use href="#K"/><use href="#R"/></g>
<g id="k15_5" class="kc" transform="translate(292,790)"><use href="#K"/><use href="#R"/></g>
<g id="k15_6" class="kc" transform="translate(344,790)"><use href="#K"/><use href="#R"/></g>
<g id="k15_7" class="kc" transform="translate(396,790)"><use href="#K"/><use href="#R"/></g>
<g id="k15_8" class="kc" transform="translate(448,790)"><use href="#K"/><use href="#R"/></g>
<g id="k15_9" class="kc" transform="translate(500,790)"><use href="#K"/><use href="#R"/></g>
<g id="k15_10" class="kc" transform="translate(552,790)"><use href="#K"/><use href="#R"/></g>
<g id="k15_11" class="kc" transform="translate(604,790)"><use href="#K"/><use href="#R"/></g>
<g id="k15_12" class="ka" transform="translate(656,790)"><use href="#K"/><use href="#R"/></g>
<g id="k15_13" class="ka" transform="translate(708,790)"><use href="#K"/><use href="#R"/></g>
<g id="k15_14" class="ka" transform="translate(760,790)"><use href="#K"/><use href="#R"/></g>
<g id="k15_15" class="ka" transform="translate(812,790)"><use href="#K"/><use href="#R"/></g>
<g id="k15_16" class="ka" transform="translate(864,790)"><use href="#K"/><use href="#R"/></g>
<g id="k15_17" class="ka" transform="translate(916,790)"><use href="#K"/><use href="#R"/></g>
<g id="k15_18" class="ka" transform="translate(968,790)"><use href="#K"/><use href="#R"/></g>
<g id="k15_19" class="ka" transform="translate(1020,790)"><use href="#K"/><use href="#R"/></g>
<g id="k15_20" class="ka" transform="translate(1072,790)"><use href="#K"/><use href="#R"/></g>
<g id="k16_1" class="kb" transform="translate(84,842)"><use href="#K"/><use href="#L"/></g>
<g id="k16_2" class="kb" transform="translate(136,842)"><use href="#K"/><use href="#L"/></g>
<g id="k16_3" class="km" transform="translate(188,842)"><use href="#K"/><use href="#L"/></g>
<g id="k16_4" class="km" transform="translate(240,842)"><use href="#K"/><use href="#L"/></g>
<g id="k16_5" class="kb" transform="translate(292,842)"><use href="#K"/><use href="#L"/></g>
<g id="k16_6" class="kb" transform="translate(344,842)"><use href="#K"/><use href="#L"/></g>
<g id="k16_7" class="kc" transform="translate(396,842)"><use href="#K"/><use href="#L"/></g>
<g id="k16_8" class="kc" transform="translate(448,842)"><use href="#K"/><use href="#L"/></g>
<g id="k16_9" class="kc" transform="translate(500,842)"><use href="#K"/><use href="#L"/></g>
<g id="k16_10" class="kc" transform="translate(552,842)"><use href="#K"/><use href="#L"/></g>
<g id="k16_11" class="kc" transform="translate(604,842)"><use href="#K"/><use href="#L"/></g>
<g id="k16_12" class="kc" transform="translate(656,842)"><use href="#K"/><use href="#L"/></g>
<g id="k16_13" class="kc" transform="translate(708,842)"><use href="#K"/><use href="#L"/></g>
<g id="k16_14" class="kc" transform="translate(760,842)"><use href="#K"/><use href="#L"/></g>
<g id="k16_15" class="kc" transform="translate(812,842)"><use href="#K"/><use href="#L"/></g>
<g id="k16_16" class="ka" transform="translate(864,842)"><use href="#K"/><use href="#L"/></g>
<g id="k16_17" class="kc" transform="translate(916,842)"><use href="#K"/><use href="#L"/></g>
<g id="k16_18" class="ka" transform="translate(968,842)"><use href="#K"/><use href="#L"/></g>
<g id="k16_19" class="ka" transform="translate(1020,842)"><use href="#K"/><use href="#L"/></g>
<g id="k16_20" class="ka" transform="translate(1072,842)"><use href="#K"/><use href="#L"/></g>
<g id="k17_1" class="kb" transform="translate(84,894)"><use href="#K"/><use href="#R"/></g>
<g id="k17_2" class="kb" transform="translate(136,894)"><use href="#K"/><use href="#R"/></g>
<g id="k17_3" class="kb" transform="translate(188,894)"><use href="#K"/><use href="#R"/></g>
<g id="k17_4" class="kb" transform="translate(240,894)"><use href="#K"/><use href="#R"/></g>
<g id="k17_5" class="km" transform="translate(292,894)"><use href="#K"/><use href="#R"/></g>
<g id="k17_6" class="kb" transform="translate(344,894)"><use href="#K"/><use href="#R"/></g>
<g id="k17_7" class="kb" transform="translate(396,894)"><use href="#K"/><use href="#R"/></g>
<g id="k17_8" class="kc" transform="translate(448,894)"><use href="#K"/><use href="#R"/></g>
<g id="k17_9" class="kc" transform="translate(500,894)"><use href="#K"/><use href="#R"/></g>
<g id="k17_10" class="kc" transform="translate(552,894)"><use href="#K"/><use href="#R"/></g>
<g id="k17_11" class="kc" transform="translate(604,894)"><use href="#K"/><use href="#R"/></g>
<g id="k17_12" class="kc" transform="translate(656,894)"><use href="#K"/><use href="#R"/></g>
<g id="k17_13" class="kc" transform="translate(708,894)"><use href="#K"/><use href="#R"/></g>
<g id="k17_14" class="kc" transform="translate(760,894)"><use href="#K"/><use href="#R"/></g>
<g id="k17_15" class="kc" transform="translate(812,894)"><use href="#K"/><use href="#R"/></g>
<g id="k17_16" class="kc" transform="translate(864,894)"><use href="#K"/><use href="#R"/></g>
<g id="k17_17" class="kc" transform="translate(916,894)"><use href="#K"/><use href="#R"/></g>
<g id="k17_18" class="kc" transform="translate(968,894)"><use href="#K"/><use href="#R"/></g>
<g id="k17_19" class="ka" transform="translate(1020,894)"><use href="#K"/><use href="#R"/></g>
<g id="k17_20" class="ka" transform="translate(1072,894)"><use href="#K"/><use href="#R"/></g>
<g id="k18_1" class="kb" transform="translate(84,946)"><use href="#K"/><use href="#L"/></g>
<g id="k18_2" class="kd" transform="translate(136,946)"><use href="#K"/><use href="#L"/></g>
<g id="k18_3" class="kd" transform="translate(188,946)"><use href="#K"/><use href="#L"/></g>
<g id="k18_4" class="kb" transform="translate(240,946)"><use href="#K"/><use href="#L"/></g>
<g id="k18_5" class="kb" transform="translate(292,946)"><use href="#K"/><use href="#L"/></g>
<g id="k18_6" class="km" transform="translate(344,946)"><use href="#K"/><use href="#L"/></g>
<g id="k18_7" class="kb" transform="translate(396,946)"><use href="#K"/><use href="#L"/></g>
<g id="k18_8" class="kb" transform="translate(448,946)"><use href="#K"/><use href="#L"/></g>
<g id="k18_9" class="ka" transform="translate(500,946)"><use href="#K"/><use href="#L"/></g>
<g id="k18_10" class="ka" transform="translate(552,946)"><use href="#K"/><use href="#L"/></g>
<g id="k18_11" class="ka" transform="translate(604,946)"><use href="#K"/><use href="#L"/></g>
<g id="k18_12" class="ka" transform="translate(656,946)"><use href="#K"/><use href="#L"/></g>
<g id="k18_13" class="ka" transform="translate(708,946)"><use href="#K"/><use href="#L"/></g>
<g id="k18_14" class="ka" transform="translate(760,946)"><use href="#K"/><use href="#L"/></g>
<g id="k18_15" class="ka" transform="translate(812,946)"><use href="#K"/><use href="#L"/></g>
<g id="k18_16" class="ka" transform="translate(864,946)"><use href="#K"/><use href="#L"/></g>
<g id="k18_17" class="ka" transform="translate(916,946)"><use href="#K"/><use href="#L"/></g>
<g id="k18_18" class="ka" transform="translate(968,946)"><use href="#K"/><use href="#L"/></g>
<g id="k18_19" class="ka" transform="translate(1020,946)"><use href="#K"/><use href="#L"/></g>
<g id="k18_20" class="ka" transform="translate(1072,946)"><use href="#K"/><use href="#L"/></g>
<g id="k19_1" class="kb" transform="translate(84,998)"><use href="#K"/><use href="#R"/></g>
<g id="k19_2" class="kd" transform="translate(136,998)"><use href="#K"/><use href="#R"/></g>
<g id="k19_3" class="kd" transform="translate(188,998)"><use href="#K"/><use href="#R"/></g>
<g id="k19_4" class="km" transform="translate(240,998)"><use href="#K"/><use href="#R"/></g>
<g id="k19_5" class="km" transform="translate(292,998)"><use href="#K"/><use href="#R"/></g>
<g id="k19_6" class="kb" transform="translate(344,998)"><use href="#K"/><use href="#R"/></g>
<g id="k19_7" class="kb" transform="translate(396,998)"><use href="#K"/><use href="#R"/></g>
<g id="k19_8" class="kb" transform="translate(448,998)"><use href="#K"/><use href="#R"/></g>
<g id="k19_9" class="kb" transform="translate(500,998)"><use href="#K"/><use href="#R"/></g>
<g id="k19_10" class="kb" transform="translate(552,998)"><use href="#K"/><use href="#R"/></g>
<g id="k19_11" class="ka" transform="translate(604,998)"><use href="#K"/><use href="#R"/></g>
<g id="k19_12" class="ka" transform="translate(656,998)"><use href="#K"/><use href="#R"/></g>
<g id="k19_13" class="ka" transform="translate(708,998)"><use href="#K"/><use href="#R"/></g>
<g id="k19_14" class="ka" transform="translate(760,998)"><use href="#K"/><use href="#R"/></g>
<g id="k19_15" class="ka" transform="translate(812,998)"><use href="#K"/><use href="#R"/></g>
<g id="k19_16" class="ka" transform="translate(864,998)"><use href="#K"/><use href="#R"/></g>
<g id="k19_17" class="ka" transform="translate(916,998)"><use href="#K"/><use href="#R"/></g>
<g id="k19_18" class="ka" transform="translate(968,998)"><use href="#K"/><use href="#R"/></g>
<g id="k19_19" class="ka" transform="translate(1020,998)"><use href="#K"/><use href="#R"/></g>
<g id="k19_20" class="ka" transform="translate(1072,998)"><use href="#K"/><use href="#R"/></g>
<g id="k20_1" class="kb" transform="translate(84,1050)"><use href="#K"/><use href="#L"/></g>
<g id="k20_2" class="kb" transform="translate(136,1050)"><use href="#K"/><use href="#L"/></g>
<g id="k20_3" class="kb" transform="translate(188,1050)"><use href="#K"/><use href="#L"/></g>
<g id="k20_4" class="kb" transform="translate(240,1050)"><use href="#K"/><use href="#L"/></g>
<g id="k20_5" class="km" transform="translate(292,1050)"><use href="#K"/><use href="#L"/></g>
<g id="k20_6" class="km" transform="translate(344,1050)"><use href="#K"/><use href="#L"/></g>
<g id="k20_7" class="km" transform="translate(396,1050)"><use href="#K"/><use href="#L"/></g>
<g id="k20_8" class="km" transform="translate(448,1050)"><use href="#K"/><use href="#L"/></g>
<g id="k20_9" class="km" transform="translate(500,1050)"><use href="#K"/><use href="#L"/></g>
<g id="k20_10" class="kb" transform="translate(552,1050)"><use href="#K"/><use href="#L"/></g>
<g id="k20_11" class="ka" transform="translate(604,1050)"><use href="#K"/><use href="#L"/></g>
<g id="k20_12" class="ka" transform="translate(656,1050)"><use href="#K"/><use href="#L"/></g>
<g id="k20_13" class="ka" transform="translate(708,1050)"><use href="#K"/><use href="#L"/></g>
<g id="k20_14" class="ka" transform="translate(760,1050)"><use href="#K"/><use href="#L"/></g>
<g id="k20_15" class="ka" transform="translate(812,1050)"><use href="#K"/><use href="#L"/></g>
<g id="k20_16" class="ka" transform="translate(864,1050)"><use href="#K"/><use href="#L"/></g>
<g id="k20_17" class="ka" transform="translate(916,1050)"><use href="#K"/><use href="#L"/></g>
<g id="k20_18" class="ka" transform="translate(968,1050)"><use href="#K"/><use href="#L"/></g>
<g id="k20_19" class="ka" transform="translate(1020,1050)"><use href="#K"/><use href="#L"/></g>
<g id="k20_20" class="ka" transform="translate(1072,1050)"><use href="#K"/><use href="#L"/></g>
</g>
<text class="wm" x="578" y="561">BRACELETBOOK.COM</text>
</svg>
